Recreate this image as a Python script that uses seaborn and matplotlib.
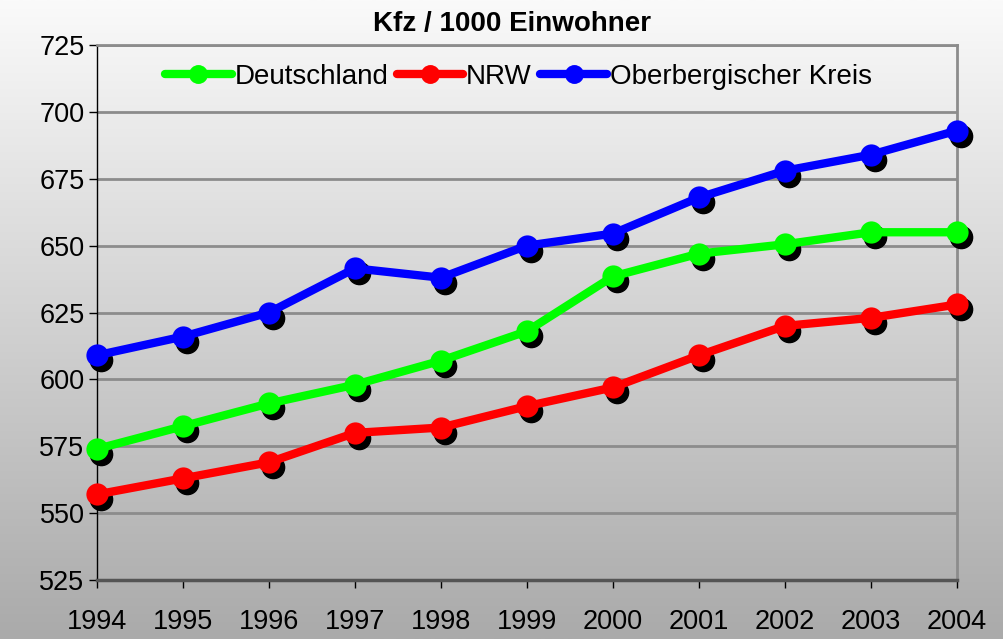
import numpy as np
import matplotlib
matplotlib.use('Agg')
import matplotlib.pyplot as plt
import matplotlib.transforms as mtransforms
from matplotlib.colors import LinearSegmentedColormap
import seaborn as sns

# data
years = [1994, 1995, 1996, 1997, 1998, 1999, 2000, 2001, 2002, 2003, 2004]
deutschland = [574, 582.5, 591, 598, 607, 618, 638.5, 647, 650.5, 655, 655]
nrw = [557, 563, 569, 580, 582, 590, 597, 609, 620, 623, 628]
oberberg = [609, 616, 625, 641.5, 638, 650, 654.5, 668, 678, 684, 693]
series_names = ['Deutschland', 'NRW', 'Oberbergischer Kreis']
series_colors = ['#00ff00', '#ff0000', '#0000ff']
y_ticks = [525, 550, 575, 600, 625, 650, 675, 700, 725]

sns.set_style('white')
plt.rcParams['font.family'] = ['Liberation Sans', 'DejaVu Sans']
plt.rcParams['text.color'] = 'black'
plt.rcParams['xtick.color'] = 'black'
plt.rcParams['ytick.color'] = 'black'

fig = plt.figure(figsize=(10.04, 6.39), dpi=100)

# gradient background over the whole figure
bg = fig.add_axes([0, 0, 1, 1], zorder=-10)
grad = np.linspace(0, 1, 256).reshape(-1, 1)
cmap = LinearSegmentedColormap.from_list('bg', ['#fafafa', '#aaaaaa'])
bg.imshow(grad, aspect='auto', cmap=cmap, extent=[0, 1, 0, 1], origin='upper')
bg.axis('off')

ax = fig.add_axes([0.0966, 0.0923, 0.8566, 0.8373])
ax.set_facecolor('none')

for vals, name, col in zip([deutschland, nrw, oberberg], series_names, series_colors):
    # marker shadow
    shadow = mtransforms.offset_copy(ax.transData, fig=fig, x=4, y=-5, units='dots')
    ax.plot(years, vals, 'o', color='black', markersize=16, transform=shadow,
            zorder=3, clip_on=False)
    sns.lineplot(x=years, y=vals, ax=ax, color=col, linewidth=6, marker='o',
                 markersize=16, markeredgewidth=0, label=name, zorder=4,
                 clip_on=False)

ax.set_xlim(1994, 2004)
ax.set_ylim(525, 725)
ax.set_xticks(years)
ax.set_yticks(y_ticks)
ax.tick_params(axis='both', labelsize=19.5, length=6, width=1, colors='black',
               direction='out', bottom=True, left=True)
ax.tick_params(axis='x', pad=15)
ax.tick_params(axis='y', pad=3)
ax.grid(axis='y', color='#8c8c8c', linewidth=2)
ax.grid(axis='x', visible=False)
ax.set_axisbelow(True)

for side in ['top', 'right']:
    ax.spines[side].set_color('#8c8c8c')
    ax.spines[side].set_linewidth(2)
ax.spines['left'].set_color('black')
ax.spines['left'].set_linewidth(1)
ax.spines['bottom'].set_color('#555555')
ax.spines['bottom'].set_linewidth(2.5)

ax.set_xlabel('')
ax.set_ylabel('')
fig.text(0.51, 0.962, 'Kfz / 1000 Einwohner', ha='center', va='center',
         fontsize=20, fontweight='bold')

leg = ax.legend(loc='upper center', bbox_to_anchor=(0.49, 1.012), ncol=3,
                frameon=False, fontsize=20, handlelength=2.4, handletextpad=0.1,
                columnspacing=0.3, markerscale=0.85)

fig.savefig('out.png', dpi=100)
